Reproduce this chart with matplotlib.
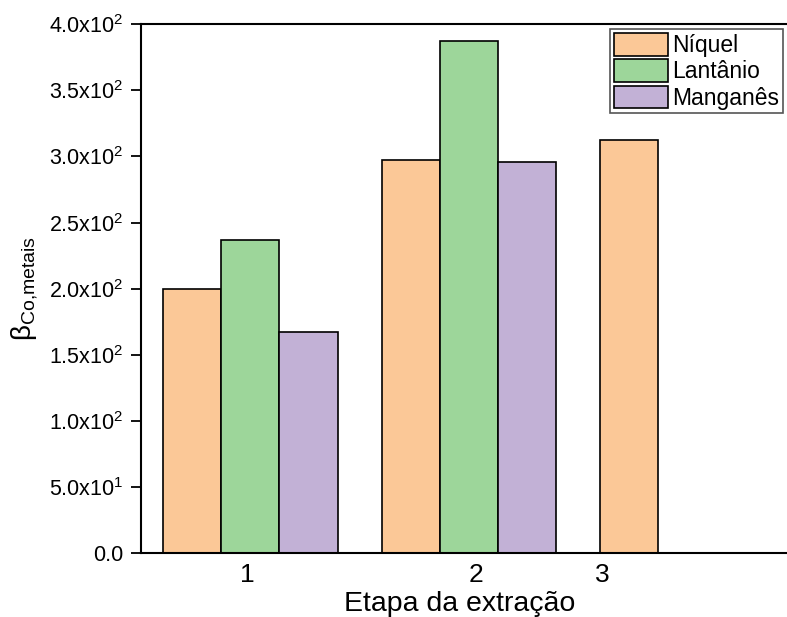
import matplotlib.pyplot as plt
import numpy as np

plt.rcParams['font.family'] = ['Liberation Sans', 'DejaVu Sans']
plt.rcParams['mathtext.fontset'] = 'custom'
plt.rcParams['mathtext.rm'] = 'Liberation Sans'
plt.rcParams['mathtext.it'] = 'Liberation Sans:italic'

# coeficientes de separação por etapa
etapas = [0, 1, 2]
niquel = [200, 297, 312.5]
lantanio = [237, 387]
manganes = [167.5, 296]

y_ticks = [0, 50, 100, 150, 200, 250, 300, 350, 400]
y_labels = ['0.0', '5.0x10$^{1}$', '1.0x10$^{2}$', '1.5x10$^{2}$', '2.0x10$^{2}$',
            '2.5x10$^{2}$', '3.0x10$^{2}$', '3.5x10$^{2}$', '4.0x10$^{2}$']
x_ticks = [-0.016, 1.034, 1.612]
x_labels = ['1', '2', '3']

cores = ['#FBC897', '#9DD69A', '#C2B1D6']
w = 0.266

fig = plt.figure(figsize=(7.87, 6.17), dpi=100)
ax = fig.add_axes([0.179, 0.103, 0.838, 0.858])

x = np.array(etapas, dtype=float)
ax.bar(x - w, niquel, w, color=cores[0], edgecolor='black', linewidth=1.2, label='Níquel')
ax.bar(x[:2], lantanio, w, color=cores[1], edgecolor='black', linewidth=1.2, label='Lantânio')
ax.bar(x[:2] + w, manganes, w, color=cores[2], edgecolor='black', linewidth=1.2, label='Manganês')

ax.set_xlim(-0.502, 2.52)
ax.set_ylim(0, 400)
ax.set_yticks(y_ticks)
ax.set_yticklabels(y_labels)
ax.set_xticks(x_ticks)
ax.set_xticklabels(x_labels)
ax.tick_params(axis='x', length=0, labelsize=19, pad=7)
ax.tick_params(axis='y', length=7.5, width=1.3, labelsize=15.5, pad=5)
for s in ax.spines.values():
    s.set_linewidth(1.5)
ax.spines['right'].set_visible(False)

ax.set_xlabel('Etapa da extração', fontsize=20.5)
ax.xaxis.set_label_coords(0.484, -0.07)
ax.set_ylabel('β$_{\\mathrm{Co{,}metais}}$', fontsize=20)
ax.yaxis.set_label_coords(-0.153, 0.5)

leg = ax.legend(loc='upper left', bbox_to_anchor=(0.712, 0.99), fontsize=16.5,
                handlelength=2.35, handleheight=1.15, handletextpad=0.2,
                labelspacing=0.1, borderpad=0.15, borderaxespad=0,
                fancybox=False, framealpha=1)
leg.get_frame().set_edgecolor('#555555')
leg.get_frame().set_linewidth(1.2)

fig.savefig('out.png', dpi=100)
